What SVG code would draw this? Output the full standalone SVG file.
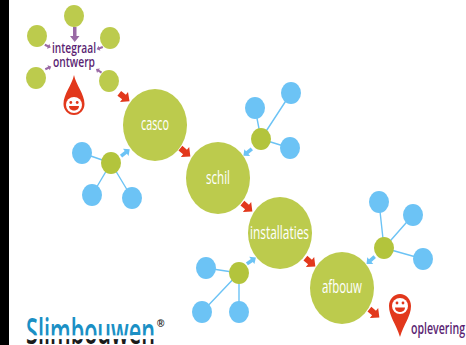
<svg xmlns="http://www.w3.org/2000/svg" width="466" height="345" viewBox="0 0 466 345">
<defs>
<linearGradient id="logo" gradientUnits="userSpaceOnUse" x1="0" y1="318" x2="0" y2="345">
<stop offset="0" stop-color="#1c8fc4"/><stop offset="0.63" stop-color="#1c8fc4"/><stop offset="0.66" stop-color="#ffffff"/><stop offset="0.76" stop-color="#ffffff"/><stop offset="0.8" stop-color="#1a1a1a"/><stop offset="1" stop-color="#1a1a1a"/>
</linearGradient>
<path id="ra" d="M-6-3 L0-3 L0-6.500 L7 0 L0 6.500 L0 3 L-6 3Z"/>
<path id="ba" d="M-5-1.800 L1-1.800 L1-4.500 L6 0 L1 4.500 L1 1.800 L-5 1.800Z"/>
</defs>
<style>
.g{fill:#bccb4d}
.d{fill:#b3c43c}
.b{fill:#6cc3f5}
.l{stroke:#6cc3f5;stroke-width:1.4;fill:none}
.ra{fill:#e2381c}
.ba{fill:#6cc3f5}
.pa{fill:#9a6aa5}
.t{font-family:"Open Sans","Liberation Sans",sans-serif;font-size:19px;fill:#fff}
.p{font-family:"Open Sans","Liberation Sans",sans-serif;font-size:15px;font-weight:600;fill:#5b1f73}
</style>
<rect width="466" height="345" fill="#fff"/>
<rect id="band" width="9" height="345" fill="#000"/>
<g id="connectors">
<path class="l" d="M111 163L82 153M111 163L92 195M111 163L132 198M261 139L255 108M261 139L291 93M261 139L290 148M239 273L206 268M239 273L202 312M239 273L239 312M384 248L379 202M384 248L413 215M384 248L423 259"/>
<use href="#ra" class="ra" transform="translate(124 97) rotate(38)"/>
<use href="#ra" class="ra" transform="translate(185 152) rotate(40)"/>
<use href="#ra" class="ra" transform="translate(247 207) rotate(40)"/>
<use href="#ra" class="ra" transform="translate(310 262) rotate(40)"/>
<use href="#ra" class="ra" transform="translate(374 313) rotate(40)"/>
<use href="#ba" class="ba" transform="translate(125 153) rotate(-38)"/>
<use href="#ba" class="ba" transform="translate(248 152) rotate(140)"/>
<use href="#ba" class="ba" transform="translate(251 261) rotate(-35)"/>
<use href="#ba" class="ba" transform="translate(371 260) rotate(138)"/>
<path class="pa" d="M73 27H76.500V36H79.500L74.700 42L70 36H73Z"/>
<use href="#ba" class="pa" transform="translate(47.500 46) rotate(25) scale(.6)"/>
<use href="#ba" class="pa" transform="translate(100 48) rotate(160) scale(.6)"/>
<use href="#ba" class="pa" transform="translate(48 68) rotate(-25) scale(.6)"/>
<use href="#ba" class="pa" transform="translate(99 71) rotate(-148) scale(.6)"/>
</g>
<g id="io-top"><ellipse class="g" cx="74" cy="16" rx="10" ry="11"/></g>
<g id="io-lt"><ellipse class="g" cx="37" cy="36" rx="10" ry="11"/></g>
<g id="io-rt"><ellipse class="g" cx="110" cy="38" rx="10" ry="11"/></g>
<g id="io-lb"><ellipse class="g" cx="36" cy="78" rx="10" ry="11"/></g>
<g id="io-rb"><ellipse class="g" cx="109" cy="81" rx="10" ry="11"/></g>
<g id="integraal"><text class="p" x="52" y="53" textLength="44" lengthAdjust="spacingAndGlyphs">integraal</text><text class="p" x="53" y="67" textLength="42" lengthAdjust="spacingAndGlyphs">ontwerp</text></g>
<g id="start"><path fill="#e2381c" d="M74 75C72 85 63.500 94 63.500 104C63.500 110 68 115 74 115C80 115 84.500 110 84.500 104C84.500 94 76 85 74 75Z"/><circle cx="74" cy="105" r="8" fill="#fff"/><circle cx="70.800" cy="102.500" r="1.400" fill="#e2381c"/><circle cx="77.200" cy="102.500" r="1.400" fill="#e2381c"/><path fill="#e2381c" d="M69 106H79C79 112 69 112 69 106Z"/></g>
<g id="casco"><ellipse class="g" cx="155" cy="125" rx="32" ry="36"/><text class="t" x="141" y="130" textLength="28" lengthAdjust="spacingAndGlyphs">casco</text></g>
<g id="schil"><ellipse class="g" cx="218" cy="178" rx="32" ry="36"/><text class="t" x="206" y="184" textLength="24" lengthAdjust="spacingAndGlyphs">schil</text></g>
<g id="installaties"><ellipse class="g" cx="280" cy="233" rx="32" ry="36"/><text class="t" x="250" y="239" textLength="59" lengthAdjust="spacingAndGlyphs">installaties</text></g>
<g id="afbouw"><ellipse class="g" cx="342" cy="288" rx="32" ry="36"/><text class="t" x="322" y="293" textLength="40" lengthAdjust="spacingAndGlyphs">afbouw</text></g>
<g id="h1"><ellipse class="d" cx="111" cy="163" rx="10" ry="11"/></g>
<g id="h1a"><ellipse class="b" cx="82" cy="153" rx="10" ry="11"/></g>
<g id="h1b"><ellipse class="b" cx="92" cy="195" rx="10" ry="11"/></g>
<g id="h1c"><ellipse class="b" cx="132" cy="198" rx="10" ry="11"/></g>
<g id="h2"><ellipse class="d" cx="261" cy="139" rx="10" ry="11"/></g>
<g id="h2a"><ellipse class="b" cx="255" cy="108" rx="10" ry="11"/></g>
<g id="h2b"><ellipse class="b" cx="291" cy="93" rx="10" ry="11"/></g>
<g id="h2c"><ellipse class="b" cx="290" cy="148" rx="10" ry="11"/></g>
<g id="h3"><ellipse class="d" cx="239" cy="273" rx="10" ry="11"/></g>
<g id="h3a"><ellipse class="b" cx="206" cy="268" rx="10" ry="11"/></g>
<g id="h3b"><ellipse class="b" cx="202" cy="312" rx="10" ry="11"/></g>
<g id="h3c"><ellipse class="b" cx="239" cy="312" rx="10" ry="11"/></g>
<g id="h4"><ellipse class="d" cx="384" cy="248" rx="10" ry="11"/></g>
<g id="h4a"><ellipse class="b" cx="379" cy="202" rx="10" ry="11"/></g>
<g id="h4b"><ellipse class="b" cx="413" cy="215" rx="10" ry="11"/></g>
<g id="h4c"><ellipse class="b" cx="423" cy="259" rx="10" ry="11"/></g>
<g id="end"><path fill="#e2381c" d="M389 306C389 299 394 294 400 294C406 294 411 299 411 306C411 316 404 324 400 337C396 324 389 316 389 306Z"/><circle cx="400" cy="306" r="8" fill="#fff"/><circle cx="397" cy="303" r="1.400" fill="#e2381c"/><circle cx="403" cy="303" r="1.400" fill="#e2381c"/><path fill="#e2381c" d="M395 307.500H405C405 313.500 395 313.500 395 307.500Z"/><text class="p" x="411" y="334" textLength="54" lengthAdjust="spacingAndGlyphs" style="font-size:17px">oplevering</text></g>
<g id="logo-mark"><text x="26" y="344" font-family="Open Sans,sans-serif" font-size="36" font-weight="600" fill="url(#logo)" textLength="129" lengthAdjust="spacingAndGlyphs">Slimbouwen</text><text x="157" y="327" font-family="Liberation Sans,sans-serif" font-size="10" font-weight="700" fill="#1a1a1a">®</text></g>
</svg>
